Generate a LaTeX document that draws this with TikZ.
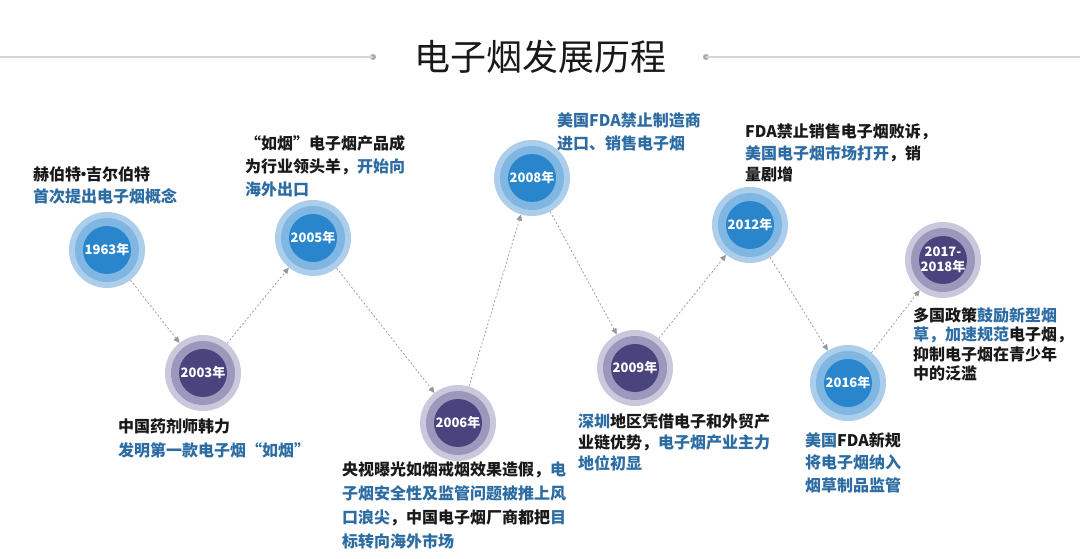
\documentclass[tikz,border=0pt]{standalone}
\usepackage{fontspec}
\setmainfont{Noto Sans CJK SC}
\usepackage{xcolor}
\usepackage{tikz}
\usetikzlibrary{arrows.meta}
\definecolor{blueouter}{RGB}{172, 206, 234}
\definecolor{bluemid}{RGB}{128, 182, 226}
\definecolor{bluecore}{RGB}{42, 134, 204}
\definecolor{purpleouter}{RGB}{202, 200, 220}
\definecolor{purplemid}{RGB}{156, 152, 188}
\definecolor{purplecore}{RGB}{74, 68, 126}
\definecolor{textblue}{RGB}{44, 108, 163}
\definecolor{textdark}{RGB}{25, 25, 25}
\definecolor{rulegray}{RGB}{212, 212, 212}
\definecolor{dotgray}{RGB}{170, 170, 170}
\definecolor{linkgray}{RGB}{150, 150, 150}
\newcommand{\bluetxt}[1]{\textcolor{textblue}{#1}}

\begin{document}
\begin{tikzpicture}[x=1pt, y=-1pt,
  yearblue/.style={circle, minimum size=76pt, inner sep=0pt, fill=blueouter, text=white, align=center,
    font=\bfseries\fontsize{13}{15}\selectfont,
    path picture={\fill[bluemid] (path picture bounding box.center) circle[radius=32pt];
                  \fill[bluecore] (path picture bounding box.center) circle[radius=24pt];}},
  yearpurple/.style={yearblue, fill=purpleouter,
    path picture={\fill[purplemid] (path picture bounding box.center) circle[radius=32pt];
                  \fill[purplecore] (path picture bounding box.center) circle[radius=24pt];}},
  desc/.style={anchor=north west, inner sep=0pt, align=left, text=textdark,
    font=\bfseries\fontsize{16}{#1}\selectfont},
  link/.style={draw=linkgray, line width=0.7pt, dash pattern=on 2pt off 2pt,
    -{Triangle[length=6pt, width=5.5pt, fill=linkgray]}}
]

\fill[white] (0,0) rectangle (1080,559);
\useasboundingbox (0,0) rectangle (1080,559);

% Title
\node[font=\fontsize{36}{40}\selectfont, text=textdark] (title) at (540,57) {电子烟发展历程};
\fill[dotgray] (373,57) circle[radius=3pt] coordinate (dotl);
\fill[dotgray] (706,57) circle[radius=3pt] coordinate (dotr);
\draw[rulegray, line width=1.6pt] (0,57) -- (dotl);
\draw[rulegray, line width=1.6pt] (dotr) -- (1080,57);

% Years
\node[yearblue] (y1963) at (107,250) {1963年};
\node[yearpurple] (y2003) at (203,373) {2003年};
\node[yearblue] (y2005) at (313,238) {2005年};
\node[yearpurple] (y2006) at (458,423) {2006年};
\node[yearblue] (y2008) at (532,178) {2008年};
\node[yearpurple] (y2009) at (635,368) {2009年};
\node[yearblue] (y2012) at (750,225) {2012年};
\node[yearblue] (y2016) at (848,383) {2016年};
\node[yearpurple] (y2017) at (943,260) {2017-\\2018年};

% Links
\draw[link] (y1963) -- (y2003);
\draw[link] (y2003) -- (y2005);
\draw[link] (y2005) -- (y2006);
\draw[link] (y2006) -- (y2008);
\draw[link] (y2008) -- (y2009);
\draw[link] (y2009) -- (y2012);
\draw[link] (y2012) -- (y2016);
\draw[link] (y2016) -- (y2017);

% Events
\node[desc=22] (t1963) at (33,167) {赫伯特{\kern-5.5pt·\kern-5.5pt}吉尔伯特\\\bluetxt{首次提出电子烟概念}};
\node[desc=23] (t2005) at (245,135) {“如烟”电子烟产品成\\为行业领头羊，\bluetxt{开始向}\\\bluetxt{海外出口}};
\node[desc=24] (t2003) at (118,419) {中国药剂师韩力\\\bluetxt{发明第一款电子烟“如烟”}};
\node[desc=24] (t2006) at (342,462) {央视曝光如烟戒烟效果造假，\bluetxt{电}\\\bluetxt{子烟安全性及监管问题被推上风}\\\bluetxt{口浪尖}，中国电子烟厂商都把\bluetxt{目}\\\bluetxt{标转向海外市场}};
\node[desc=23] (t2008) at (557,112) {\bluetxt{美国FDA禁止制造商}\\\bluetxt{进口、销售电子烟}};
\node[desc=21] (t2009) at (578,414) {\bluetxt{深圳}地区凭借电子和外贸产\\业链优势，\bluetxt{电子烟产业主力}\\\bluetxt{地位初显}};
\node[desc=21.5] (t2012) at (745,124) {FDA禁止销售电子烟败诉，\\\bluetxt{美国电子烟市场打开}，销\\量剧增};
\node[desc=22.5] (t2016) at (805,432) {\bluetxt{美国}FDA新规\\\bluetxt{将电子烟纳入}\\\bluetxt{烟草制品监管}};
\node[desc=19.5] (t2017) at (913,307) {多国政策\bluetxt{鼓励新型烟}\\\bluetxt{草，加速规范}电子烟，\\抑制电子烟在青少年\\中的泛滥};

\end{tikzpicture}
\end{document}
